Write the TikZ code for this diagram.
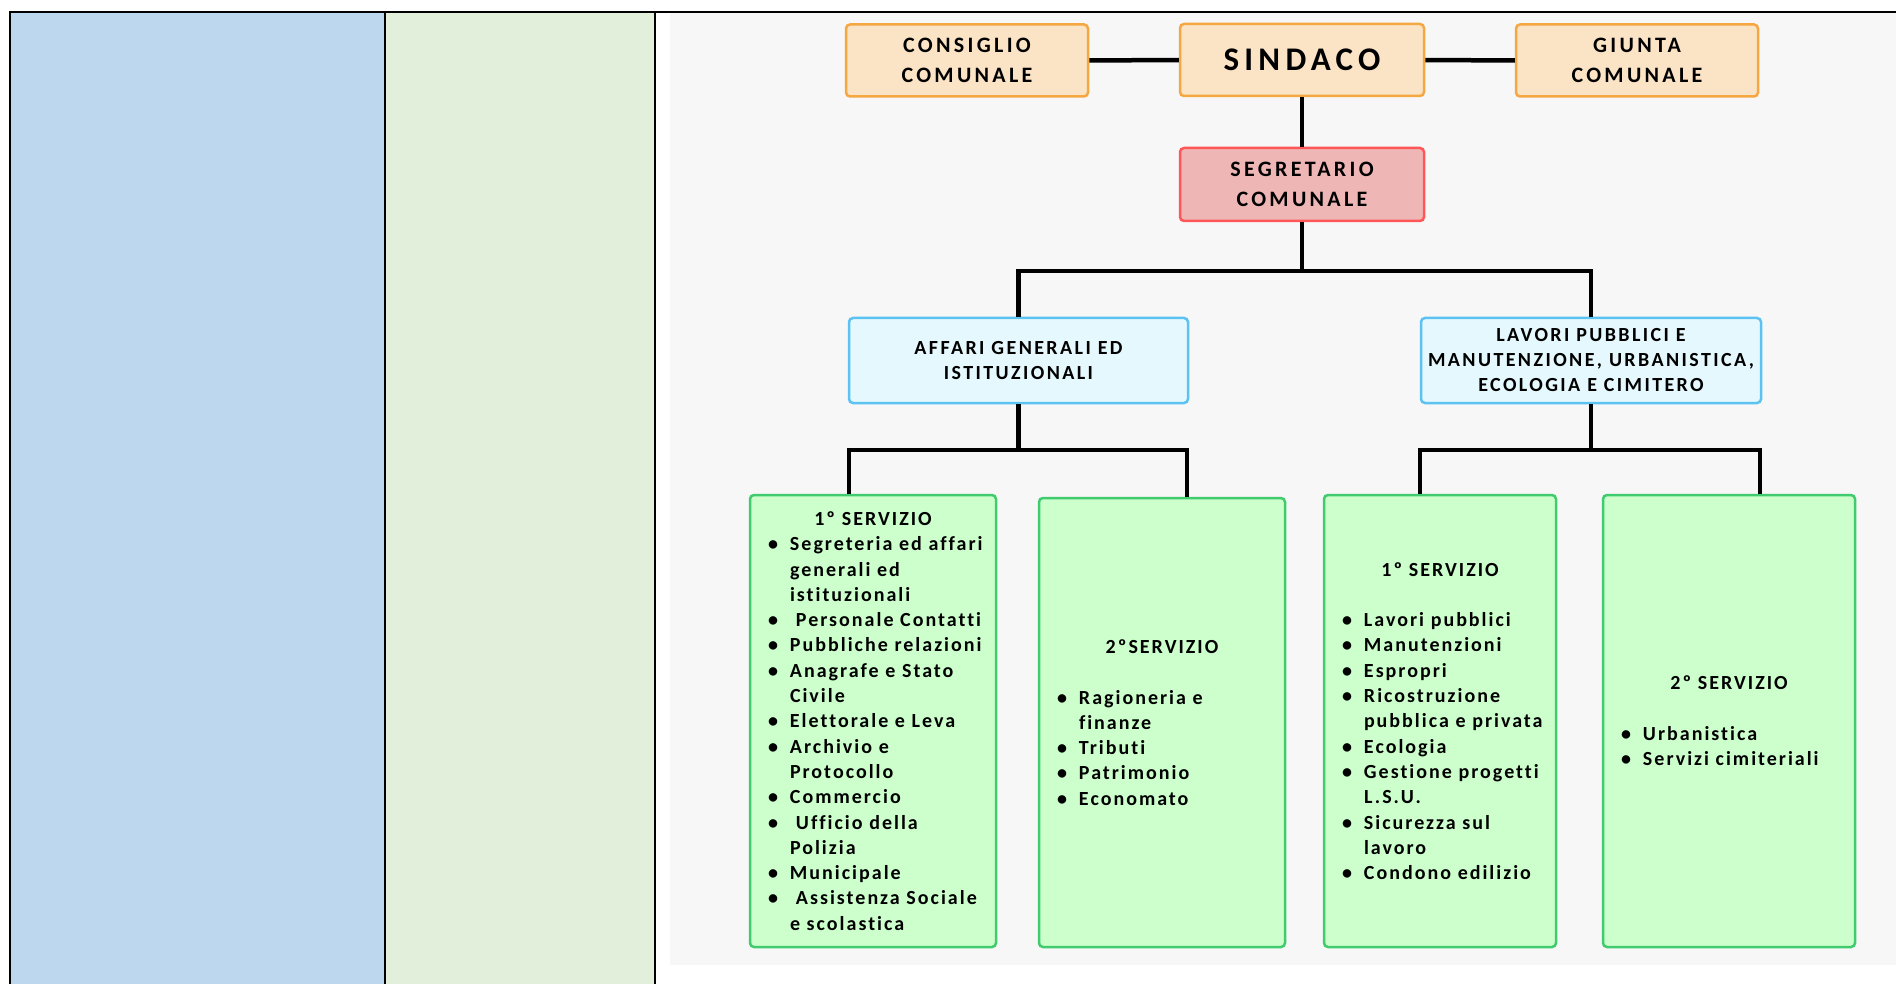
\documentclass[tikz,border=0pt]{standalone}
\usepackage{fontspec}
\setmainfont{Carlito}[Ligatures=NoCommon]
\newfontfamily\topfont[LetterSpace=15,Ligatures=NoCommon]{Carlito}
\newfontfamily\sindfont[LetterSpace=16,Ligatures=NoCommon]{Carlito}
\newfontfamily\midfont[LetterSpace=12,Ligatures=NoCommon]{Carlito}
\newfontfamily\grnfont[LetterSpace=10,Ligatures=NoCommon]{Carlito}
\definecolor{colblue}{HTML}{BDD7EE}
\definecolor{colgreen}{HTML}{E2EFDA}
\definecolor{bggray}{HTML}{F7F7F7}
\definecolor{orfill}{HTML}{FBE3C5}
\definecolor{ordraw}{HTML}{F5A742}
\definecolor{rdfill}{HTML}{EFB6B6}
\definecolor{rddraw}{HTML}{FF5757}
\definecolor{cyfill}{HTML}{E5F8FD}
\definecolor{cydraw}{HTML}{5CC2F2}
\definecolor{grfill}{HTML}{CCFFCC}
\definecolor{grdraw}{HTML}{3FCB6E}
\newcommand{\hdline}[1]{\makebox[\hsize][c]{#1}}
\newcommand{\bitem}[1]{\mbox{\hspace*{18pt}\makebox[22pt][l]{\textbullet}#1}}
\newcommand{\citem}[1]{\mbox{\hspace*{40pt}#1}}
\begin{document}
\begin{tikzpicture}[x=1pt,y=-1pt,
  boxbase/.style={draw, rounded corners=4pt, line width=2.5pt, inner sep=0pt, align=center},
  orbox/.style={boxbase, fill=orfill, draw=ordraw, minimum width=242, minimum height=72,
     font=\topfont\bfseries\fontsize{22}{29.5}\selectfont},
  rdbox/.style={boxbase, fill=rdfill, draw=rddraw, minimum width=244, minimum height=73,
     font=\topfont\bfseries\fontsize{22}{30}\selectfont},
  cybox/.style={boxbase, fill=cyfill, draw=cydraw, minimum width=339, minimum height=85,
     font=\midfont\bfseries\fontsize{20}{25}\selectfont},
  grbox/.style={boxbase, fill=grfill, draw=grdraw, align=left, minimum height=452,
     font=\grnfont\bfseries\fontsize{20}{25.3}\selectfont},
  conn/.style={line width=4.5pt, draw=black}
]
\useasboundingbox (0,0) rectangle (1896,984);
% table background
\fill[colblue] (10,12) rectangle (385,984);
\fill[colgreen] (385,12) rectangle (655,984);
\fill[bggray] (670,13) rectangle (1896,965);
\draw[line width=2.5pt] (10,984) -- (10,12) -- (1896,12);
\draw[line width=2.5pt] (385,12) -- (385,984);
\draw[line width=2.5pt] (655,12) -- (655,984);

% top row
\node[orbox] (cons) at (967,60.5) {CONSIGLIO\\COMUNALE};
\node[orbox, minimum width=244, font=\sindfont\bfseries\fontsize{33}{36}\selectfont] (sind) at (1302,60) {SINDACO};
\node[orbox] (giun) at (1637,60.5) {GIUNTA\\COMUNALE};
\node[rdbox] (segr) at (1302,184.5) {SEGRETARIO\\COMUNALE};

% second level
\node[cybox] (aff) at (1018.5,360.5) {AFFARI GENERALI ED\\ISTITUZIONALI};
\node[cybox, minimum width=340] (lav) at (1591,360.5) {LAVORI PUBBLICI E\\MANUTENZIONE, URBANISTICA,\\ECOLOGIA E CIMITERO};

% third level
\node[grbox, text width=246] (g1) at (873,721) {%
\hdline{1º SERVIZIO}\\
\bitem{Segreteria ed affari}\\
\citem{generali ed}\\
\citem{istituzionali}\\
\bitem{\hspace{6pt}Personale Contatti}\\
\bitem{Pubbliche relazioni}\\
\bitem{Anagrafe e Stato}\\
\citem{Civile}\\
\bitem{Elettorale e Leva}\\
\bitem{Archivio e}\\
\citem{Protocollo}\\
\bitem{Commercio}\\
\bitem{\hspace{6pt}Ufficio della}\\
\citem{Polizia}\\
\bitem{Municipale}\\
\bitem{\hspace{6pt}Assistenza Sociale}\\
\citem{e scolastica}};
\node[grbox, text width=246, minimum height=449] (g2) at (1162,722.5) {%
\hdline{2ºSERVIZIO}\\[25.3pt]
\bitem{Ragioneria e}\\
\citem{finanze}\\
\bitem{Tributi}\\
\bitem{Patrimonio}\\
\bitem{Economato}};
\node[grbox, text width=232] (g3) at (1440,721) {%
\hdline{1º SERVIZIO}\\[25.3pt]
\bitem{Lavori pubblici}\\
\bitem{Manutenzioni}\\
\bitem{Espropri}\\
\bitem{Ricostruzione}\\
\citem{pubblica e privata}\\
\bitem{Ecologia}\\
\bitem{Gestione progetti}\\
\citem{L.S.U.}\\
\bitem{Sicurezza sul}\\
\citem{lavoro}\\
\bitem{Condono edilizio}};
\node[grbox, text width=252] (g4) at (1729,721) {%
\hdline{2º SERVIZIO}\\[25.3pt]
\bitem{Urbanistica}\\
\bitem{Servizi cimiteriali}};

% connectors
\coordinate (j1) at (1302,271);
\coordinate (t1) at (849,450);
\coordinate (t2) at (1187,450);
\coordinate (t3) at (1420,450);
\coordinate (t4) at (1760,450);
\draw[conn] (cons) -- (sind);
\draw[conn] (sind) -- (giun);
\draw[conn] (sind) -- (segr);
\draw[conn] (segr.south) -- (j1);
\draw[conn] (aff.north) |- (j1) -| (lav.north);
\draw[conn] (aff.south) -- (aff.south |- t1);
\draw[conn] (g1.north -| t1) -- (t1) -- (t2) -- (g2.north -| t2);
\draw[conn] (lav.south) -- (lav.south |- t3);
\draw[conn] (g3.north -| t3) -- (t3) -- (t4) -- (g4.north -| t4);
\end{tikzpicture}
\end{document}
